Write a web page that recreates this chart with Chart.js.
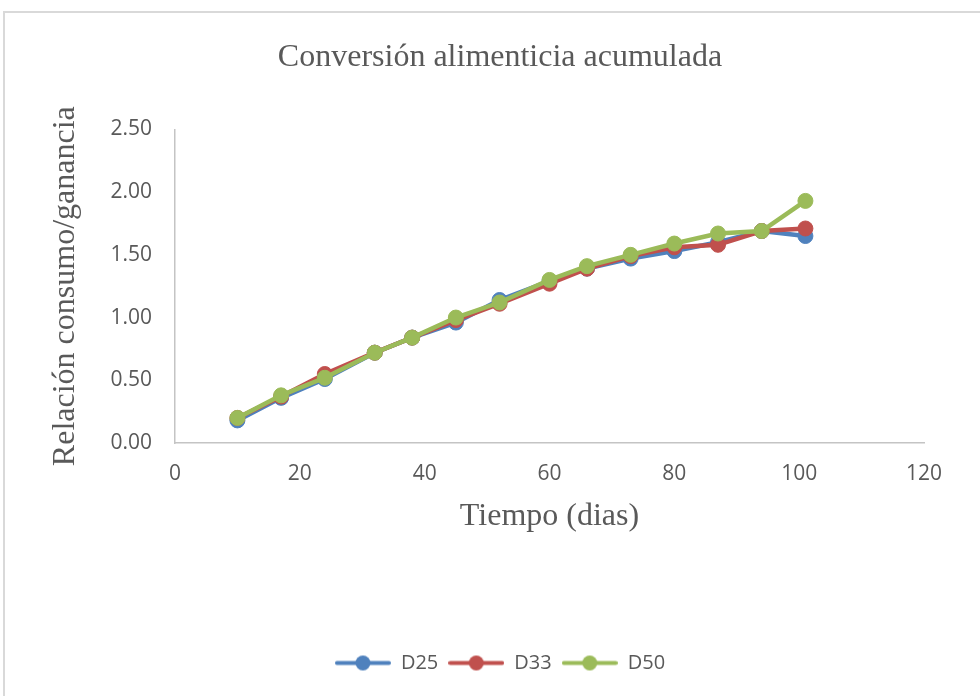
<!DOCTYPE html>
<html>
<head>
<meta charset="utf-8">
<script src="https://cdn.jsdelivr.net/npm/chart.js@4"></script>
<style>
  html, body { margin: 0; padding: 0; background: #fff; overflow: hidden; }
  #frame {
    position: absolute; left: 3px; top: 11px;
    width: 990px; height: 690px;
    border: 2px solid #d9d9d9;
  }
  canvas { display: block; }
</style>
</head>
<body>
<div id="frame"><canvas id="convChart" width="990" height="690"></canvas></div>
<script>
// data
const days = [10, 17, 24, 32, 38, 45, 52, 60, 66, 73, 80, 87, 94, 101];
const d25 = [0.18, 0.36, 0.51, 0.72, 0.84, 0.96, 1.14, 1.29, 1.39, 1.47, 1.53, 1.60, 1.69, 1.65];
const d33 = [0.20, 0.37, 0.55, 0.72, 0.84, 0.98, 1.11, 1.27, 1.39, 1.49, 1.56, 1.58, 1.69, 1.71];
const d50 = [0.20, 0.38, 0.52, 0.72, 0.84, 1.00, 1.12, 1.30, 1.41, 1.50, 1.59, 1.67, 1.69, 1.93];
const seriesNames = ["D25", "D33", "D50"];
const seriesColors = ["#4F81BD", "#C0504D", "#9BBB59"];
const xTicks = [0, 20, 40, 60, 80, 100, 120];
const yTicks = [0, 0.5, 1, 1.5, 2, 2.5];

const textColor = "#595959";
const axisColor = "#c4c4c4";

function toPoints(values) {
    return days.map((d, i) => ({ x: d, y: values[i] }));
}

// legend symbol: short line with a dot in the middle
function legendSymbol(color) {
    const c = document.createElement("canvas");
    c.width = 56;
    c.height = 17;
    const g = c.getContext("2d");
    g.strokeStyle = color;
    g.lineWidth = 4;
    g.lineCap = "round";
    g.beginPath();
    g.moveTo(2, 8.5);
    g.lineTo(54, 8.5);
    g.stroke();
    g.fillStyle = color;
    g.beginPath();
    g.arc(28, 8.5, 7.5, 0, Math.PI * 2);
    g.fill();
    return c;
}
const symbols = seriesColors.map(legendSymbol);

const allSeries = [d25, d33, d50];
const datasets = allSeries.map((values, i) => ({
    label: seriesNames[i],
    data: toPoints(values),
    borderColor: seriesColors[i],
    backgroundColor: seriesColors[i],
    pointBackgroundColor: seriesColors[i],
    pointBorderColor: seriesColors[i],
    pointBorderWidth: 1,
    pointRadius: 7.5,
    borderWidth: 4.5,
    showLine: true,
    tension: 0,
    order: allSeries.length - i
}));

const ctx = document.getElementById("convChart").getContext("2d");
new Chart(ctx, {
    type: "scatter",
    data: { datasets: datasets },
    options: {
        responsive: false,
        animation: false,
        layout: { padding: { left: 0, right: 0, top: 0, bottom: 20 } },
        plugins: {
            tooltip: { enabled: false },
            title: {
                display: true,
                text: "Conversión alimenticia acumulada",
                color: textColor,
                font: { family: "'Liberation Serif', 'Times New Roman', serif", size: 32, weight: "normal" },
                padding: { top: 25, bottom: 53 }
            },
            legend: {
                position: "bottom",
                labels: {
                    color: textColor,
                    font: { family: "'Open Sans', sans-serif", size: 20 },
                    usePointStyle: true,
                    pointStyleWidth: 56,
                    boxHeight: 17,
                    padding: 10,
                    generateLabels: (chart) => {
                        const items = Chart.defaults.plugins.legend.labels.generateLabels(chart);
                        items.forEach(it => { it.pointStyle = symbols[it.datasetIndex]; });
                        return items.sort((a, b) => a.datasetIndex - b.datasetIndex);
                    }
                }
            }
        },
        scales: {
            x: {
                type: "linear",
                min: 0,
                max: 120,
                afterBuildTicks: (scale) => { scale.ticks = xTicks.map(v => ({ value: v })); },
                afterFit: (scale) => { scale.height = 200; },
                grid: { display: false, drawTicks: false },
                border: { display: true, color: axisColor, width: 1.5 },
                ticks: {
                    color: textColor,
                    padding: 18,
                    font: { family: "'Open Sans', sans-serif", size: 21 }
                },
                title: {
                    display: true,
                    text: "Tiempo (dias)",
                    color: textColor,
                    font: { family: "'Liberation Serif', 'Times New Roman', serif", size: 32 },
                    padding: { top: 0, bottom: 107 }
                }
            },
            y: {
                min: 0,
                max: 2.5,
                afterBuildTicks: (scale) => { scale.ticks = yTicks.map(v => ({ value: v })); },
                afterFit: (scale) => { scale.width = 170; },
                grid: { display: false, drawTicks: false },
                border: { display: true, color: axisColor, width: 1.5 },
                ticks: {
                    color: textColor,
                    padding: 23,
                    font: { family: "'Open Sans', sans-serif", size: 21 },
                    callback: (v) => Number(v).toFixed(2)
                },
                title: {
                    display: true,
                    text: "Relación consumo/ganancia",
                    color: textColor,
                    font: { family: "'Liberation Serif', 'Times New Roman', serif", size: 32 },
                    padding: { top: 41, bottom: 0 }
                }
            },
            // empty right-hand axis that only reserves the margin on the right
            yRight: {
                position: "right",
                min: 0,
                max: 1,
                afterFit: (scale) => { scale.width = 71; },
                grid: { display: false, drawTicks: false },
                border: { display: false },
                ticks: { display: false }
            }
        }
    }
});
</script>
</body>
</html>
